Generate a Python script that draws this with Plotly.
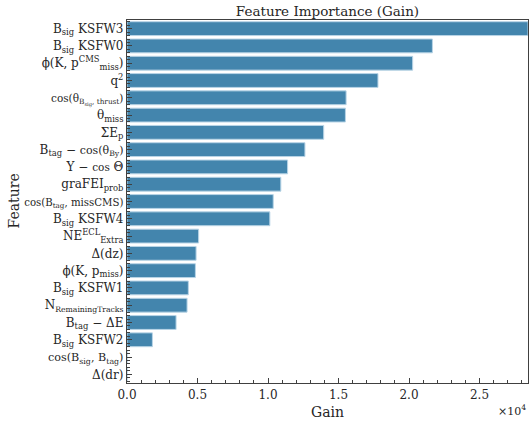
import plotly.graph_objects as go

def small(s, px=10.5):
    return f'<span style="font-size:{px}px">{s}</span>'

features = [
    "B<sub>sig</sub> KSFW3",
    "B<sub>sig</sub> KSFW0",
    "ϕ(K, p<sup>CMS</sup><sub>miss</sub>)",
    "q<sup>2</sup>",
    small("cos(θ<sub>B<sub>sig</sub>, thrust</sub>)"),
    "θ<sub>miss</sub>",
    "ΣE<sub>p</sub>",
    "B<sub>tag</sub> − " + small("cos(θ<sub>By</sub>)", 11),
    "Υ − " + small("cos", 10.5) + " Θ",
    "graFEI<sub>prob</sub>",
    small("cos(B<sub>tag</sub>, missCMS)", 10.2),
    "B<sub>sig</sub> KSFW4",
    "NE<sup>ECL</sup><sub>Extra</sub>",
    "Δ(dz)",
    "ϕ(K, p<sub>miss</sub>)",
    "B<sub>sig</sub> KSFW1",
    "N" + small("<sub>RemainingTracks</sub>", 11),
    "B<sub>tag</sub> − ΔE",
    "B<sub>sig</sub> KSFW2",
    small("cos(B<sub>sig</sub>, B<sub>tag</sub>)", 11.2),
    "Δ(dr)",
]
gain = [28440, 21660, 20260, 17800, 15540, 15490, 13950, 12620, 11390, 10910,
        10370, 10130, 5080, 4900, 4850, 4350, 4260, 3480, 1800, 0, 0]

x_tickvals = [0, 5000, 10000, 15000, 20000, 25000]
x_ticktext = ["0.0", "0.5", "1.0", "1.5", "2.0", "2.5"]

positions = list(range(len(features)))

font_family = "DejaVu Serif"
text_col = "#262626"
axis_col = "#404040"

fig = go.Figure(
    go.Bar(
        x=gain,
        y=positions,
        orientation="h",
        width=0.8,
        marker=dict(color="#4385ad", line=dict(color="#b8d4e6", width=1)),
    )
)

fig.update_layout(
    width=530,
    height=423,
    margin=dict(l=127, r=2, t=20, b=40),
    paper_bgcolor="white",
    plot_bgcolor="white",
    showlegend=False,
    font=dict(family=font_family, color=text_col, size=12),
    title=dict(
        text="Feature Importance (Gain)",
        x=0.5 * (127 + 528) / 530,
        xanchor="center",
        y=1 - 11 / 423,
        yanchor="middle",
        font=dict(family=font_family, size=13.5, color=text_col),
    ),
)

fig.update_xaxes(
    automargin=False,
    range=[0, max(gain)],
    tickmode="array",
    tickvals=x_tickvals,
    ticktext=x_ticktext,
    ticks="inside",
    ticklen=5,
    tickcolor=axis_col,
    showline=True,
    linecolor=axis_col,
    linewidth=1.3,
    mirror=True,
    showgrid=False,
    zeroline=False,
    tickfont=dict(size=12, family=font_family, color=text_col),
    minor=dict(tickmode="linear", tick0=0, dtick=1000, ticks="inside", ticklen=3, tickcolor=axis_col, showgrid=False),
    title=dict(text="Gain", font=dict(size=14, family=font_family, color=text_col), standoff=6),
)

fig.update_yaxes(
    automargin=False,
    range=[len(features) - 0.5, -0.5],
    tickmode="array",
    tickvals=positions,
    ticktext=features,
    ticks="inside",
    ticklen=5,
    tickcolor=axis_col,
    showline=True,
    linecolor=axis_col,
    linewidth=1.3,
    mirror=True,
    showgrid=False,
    zeroline=False,
    tickfont=dict(size=12, family=font_family, color=text_col),
    minor=dict(tickmode="linear", tick0=0, dtick=0.2, ticks="inside", ticklen=2.5, tickcolor=axis_col, showgrid=False),
)

fig.add_annotation(
    text="Feature",
    xref="paper", yref="paper",
    x=-114 / 401, y=0.5,
    xanchor="center", yanchor="middle",
    textangle=-90,
    showarrow=False,
    font=dict(size=14, family=font_family, color=text_col),
)

fig.add_annotation(
    text="×10<sup>4</sup>",
    xref="paper", yref="paper",
    x=1.0, y=-0.075,
    xanchor="right", yanchor="middle",
    showarrow=False,
    font=dict(size=11, family=font_family, color=text_col),
)

fig.write_html("out.html")
